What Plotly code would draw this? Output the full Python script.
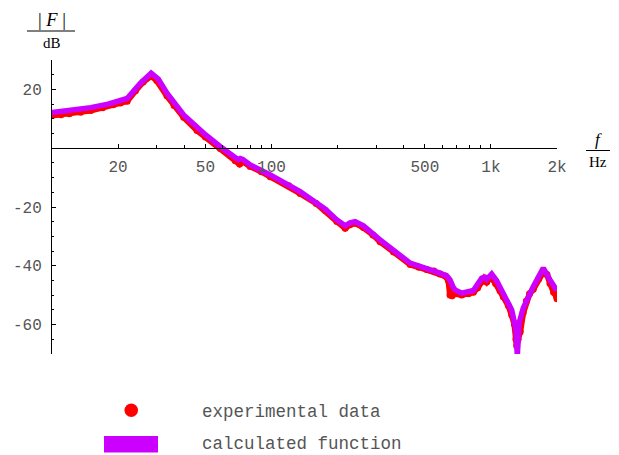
import plotly.graph_objects as go

# ---- data ----
freq_exp = [10, 11, 12, 13.5, 15, 17, 19, 20.5, 22, 24, 26, 28.3, 30, 33.4, 36, 39.8,
            45.8, 50, 58.5, 65, 68.4, 71.6, 74, 80, 90, 98.7, 120, 135, 160, 175.8,
            198.6, 216.7, 228, 240.6, 262.5, 290, 312.6, 360, 428.5, 470, 510, 550,
            586, 620, 640, 651, 665, 686, 736, 790, 832, 870, 908, 930, 957, 1000,
            1050, 1100, 1138, 1200, 1243, 1280, 1300, 1310, 1330, 1360, 1403, 1450,
            1500, 1559, 1650, 1732, 1800, 1858, 1930, 1993, 2000]
db_exp = [11.1, 11.4, 11.7, 12.2, 12.8, 13.8, 14.8, 15.4, 16.0, 19.5, 22.5, 24.6, 23.0,
          17.8, 14.5, 10.5, 6.0, 3.8, -0.1, -2.6, -4.3, -5.4, -4.5, -6.2, -8.0, -9.7,
          -12.8, -15.4, -18.8, -21.2, -24.9, -27.2, -26.0, -25.5, -27.0, -29.5, -31.8,
          -35.3, -39.6, -40.5, -41.3, -41.8, -42.8, -43.5, -45.0, -49.9, -50.2, -49.5,
          -49.9, -49.5, -49.0, -47.5, -45.3, -44.3, -45.5, -43.8, -46.0, -48.5, -50.5,
          -53.5, -56.7, -60.0, -65.0, -67.2, -65.0, -62.4, -56.0, -52.0, -49.5, -48.0,
          -44.5, -42.0, -43.0, -46.0, -49.0, -50.5, -51.2]

freq_calc = [10, 12, 15, 18, 20.5, 22, 25.3, 28.3, 30.5, 33.4, 39.8, 45.8, 50, 58.5,
             68.4, 70.5, 72, 74, 80, 98.7, 135, 175.8, 198.6, 216.7, 228, 240.6, 262.5,
             312.6, 428.5, 510, 586, 630, 651, 670, 686, 736, 832, 908, 940, 957, 1008,
             1060, 1138, 1243, 1300, 1319, 1344, 1403, 1559, 1732, 1858, 1993]
db_calc = [12.1, 12.8, 13.8, 15.0, 16.1, 16.9, 22.1, 25.5, 23.5, 18.7, 11.3, 6.8, 4.6,
           0.5, -3.4, -3.9, -3.5, -3.8, -5.7, -9.1, -14.8, -20.7, -24.4, -26.4, -25.4,
           -25.0, -26.4, -31.2, -39.1, -40.8, -42.5, -43.5, -44.8, -47.0, -48.2, -49.3,
           -48.4, -44.2, -43.9, -44.6, -42.8, -45.0, -49.3, -55.0, -61.8, -70.5, -59.5,
           -54.4, -47.1, -40.8, -44.8, -48.4]

x_tick_vals = [20, 50, 100, 500, 1000, 2000]
x_tick_text = ["20", "50", "100", "500", "1k", "2k"]
x_minor_vals = [30, 40, 60, 70, 80, 90, 200, 300, 400, 600, 700, 800, 900]
y_tick_vals = [20, -20, -40, -60]
y_tick_text = ["20", "-20", "-40", "-60"]

RED = "#FF0000"
PURPLE = "#CC00FF"
OFF = 8  # page body margin
W, H = 619 - OFF, 455 - OFF
ML, MR, MT, MB = 52 - OFF, 62, 60 - OFF, 101
PW, PH = W - ML - MR, H - MT - MB


def px(x):
    return (x - OFF - ML) / PW


def py(y):
    return (H - MB - (y - OFF)) / PH


fig = go.Figure()
fig.add_trace(go.Scatter(x=freq_exp, y=db_exp, mode="lines+markers",
                         line=dict(color=RED, width=6),
                         marker=dict(color=RED, size=7), showlegend=False))
fig.add_trace(go.Scatter(x=freq_calc, y=db_calc, mode="lines",
                         line=dict(color=PURPLE, width=5.5), showlegend=False))

mono = "Liberation Mono, Courier New, monospace"
tickfont = dict(family=mono, size=16, color="#555555")
fig.update_layout(
    width=W, height=H, paper_bgcolor="white", plot_bgcolor="white",
    margin=dict(l=ML, r=MR, t=MT, b=MB, pad=0, autoexpand=False),
    xaxis=dict(type="log", range=[1, 3.30103], showgrid=False, zeroline=False,
               automargin=False,
               showline=True, linecolor="black", linewidth=1,
               anchor="free", position=0.7,
               tickmode="array", tickvals=x_tick_vals, ticktext=x_tick_text,
               ticks="inside", ticklen=4, tickcolor="black", tickfont=tickfont,
               ticklabelstandoff=4,
               minor=dict(tickmode="array", tickvals=x_minor_vals, ticks="inside",
                          ticklen=3, tickcolor="black")),
    yaxis=dict(range=[-70, 30], showgrid=False, zeroline=False,
               automargin=False,
               showline=True, linecolor="black", linewidth=1,
               tickmode="array", tickvals=y_tick_vals, ticktext=y_tick_text,
               ticks="inside", ticklen=4, tickcolor="black", tickfont=tickfont,
               ticklabelstandoff=6,
               minor=dict(dtick=5, ticks="inside", ticklen=2, tickcolor="black")),
)

serif = "Liberation Serif, Times New Roman, serif"
ann = [
    dict(x=px(52), y=py(20.5), text="| <i>F</i> |", font=dict(family=serif, size=18.5, color="black")),
    dict(x=px(51.5), y=py(43), text="dB", font=dict(family=serif, size=15, color="black")),
    dict(x=px(598), y=py(139), text="<i>f</i>", font=dict(family=serif, size=17, color="black")),
    dict(x=px(597.5), y=py(162), text="Hz", font=dict(family=serif, size=15, color="black")),
]
for a in ann:
    fig.add_annotation(xref="paper", yref="paper", xanchor="center", yanchor="middle",
                       showarrow=False, **a)

legfont = dict(family=mono, size=17.5, color="#555555")
fig.add_annotation(xref="paper", yref="paper", x=px(200), y=py(412), xanchor="left",
                   yanchor="middle", showarrow=False, text="experimental data", font=legfont)
fig.add_annotation(xref="paper", yref="paper", x=px(200), y=py(444), xanchor="left",
                   yanchor="middle", showarrow=False, text="calculated function", font=legfont)

shapes = [
    dict(type="line", x0=px(27), x1=px(75), y0=py(31), y1=py(31), line=dict(color="black", width=1)),
    dict(type="line", x0=px(586), x1=px(610), y0=py(150.5), y1=py(150.5), line=dict(color="black", width=1)),
    dict(type="circle", x0=px(124.5), x1=px(138), y0=py(403.5), y1=py(417), fillcolor=RED,
         line=dict(width=0)),
    dict(type="rect", x0=px(104), x1=px(158), y0=py(436), y1=py(452.5), fillcolor=PURPLE,
         line=dict(width=0)),
]
for s in shapes:
    fig.add_shape(xref="paper", yref="paper", layer="above", **s)

fig.write_html("out.html")
